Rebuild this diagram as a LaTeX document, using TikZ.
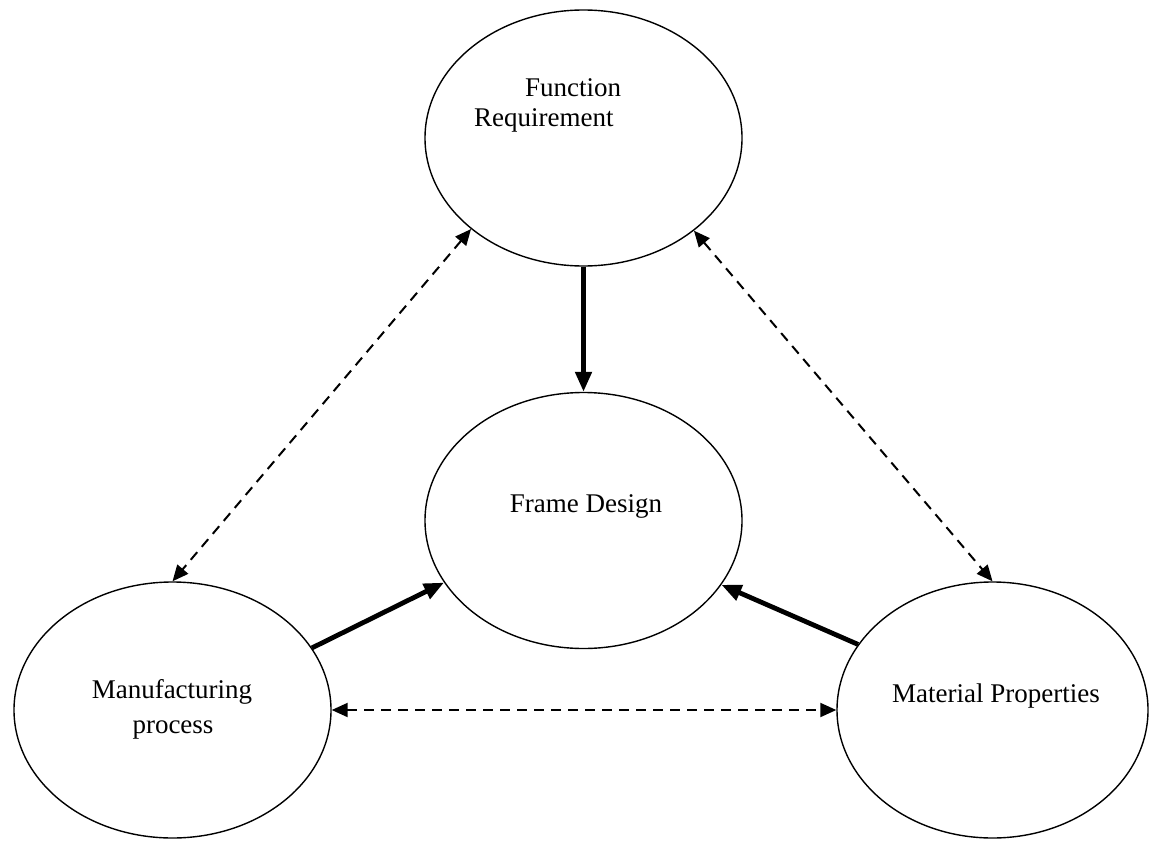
\documentclass[tikz,border=0pt]{standalone}
\usepackage{fontspec}
\setmainfont{Liberation Serif}
\usetikzlibrary{shapes.geometric,arrows.meta}
\begin{document}
\begin{tikzpicture}[x=1pt,y=-1pt,
  oval/.style={draw,ellipse,line width=1.4pt,minimum width=317pt,minimum height=256pt,inner sep=0pt},
  lbl/.style={font=\fontsize{27}{30}\selectfont,inner sep=0pt},
  solidarrow/.style={line width=4.8pt,-{Triangle[length=20pt,width=16pt]}},
  dasharrow/.style={line width=2pt,dash pattern=on 10pt off 7pt,
    {Triangle[length=16pt,width=14pt]}-{Triangle[length=16pt,width=14pt]}}]
\useasboundingbox (0,0) rectangle (1150,840);
% ellipses
\node[oval] (fr) at (583.5,138) {};
\node[oval] (fd) at (583.5,520.5) {};
\node[oval] (mp) at (172.5,710) {};
\node[oval,minimum width=311pt] (mat) at (992.5,710) {};
% labels
\node[lbl,anchor=base west] (t1) at (525,97) {Function};
\node[lbl,anchor=base west] (t2) at (474,127) {Requirement};
\node[lbl,anchor=base] (t3) at (586,512) {Frame Design};
\node[lbl,anchor=base] (t4) at (172,698) {Manufacturing};
\node[lbl,anchor=base] (t5) at (173,733) {process};
\node[lbl,anchor=base] (t6) at (996,702) {Material Properties};
% solid arrows
\draw[solidarrow] (fr.south) -- (fd.north);
\draw[solidarrow] (mp.24.6) -- (fd.204.6);
\draw[solidarrow] (mat.154.9) -- (fd.335.7);
% dashed double arrows
\draw[dasharrow] (fr.219.8) -- (mp.north);
\draw[dasharrow] (fr.320.4) -- (mat.north);
\draw[dasharrow] (mp.east) -- (mat.west);
\end{tikzpicture}
\end{document}
